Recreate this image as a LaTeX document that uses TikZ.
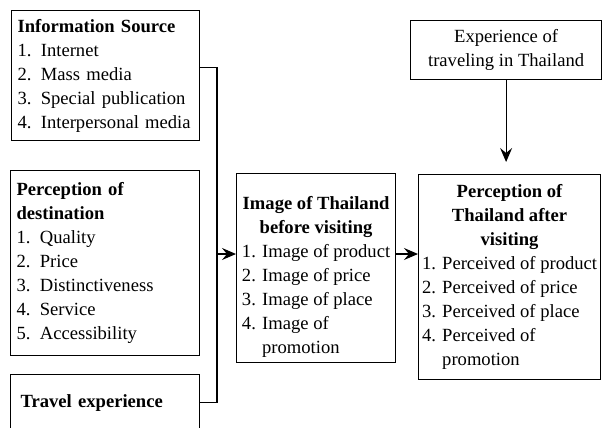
\documentclass[tikz,border=0pt]{standalone}
\usepackage{fontspec}
\setmainfont{Liberation Serif}
\usetikzlibrary{arrows.meta}
\newcommand{\hd}[1]{\multicolumn{1}{@{}c@{}}{\textbf{#1}}}
\tikzset{
  box/.style={draw, line width=0.6pt, align=left, inner ysep=0pt, anchor=north west, font=\fontsize{9.3}{12}\selectfont},
  arr/.style={-{Stealth[length=7pt,width=6pt,inset=2.5pt]}, line width=0.6pt}
}
\begin{document}
\begin{tikzpicture}[x=0.5pt,y=-0.5pt]
    \useasboundingbox (0,0) rectangle (605,428);
    \node[box, text width=88pt, inner xsep=3pt, minimum height=65pt] (info) at (11,10)
      {\textbf{Information Source}\\1. Internet\\2. Mass media\\3. Special publication\\4. Interpersonal media};
    \node[box, text width=88.5pt, inner xsep=3pt, minimum height=92.5pt] (dest) at (10,170)
      {\textbf{Perception of}\\\textbf{destination}\\1. Quality\\2. Price\\3. Distinctiveness\\4. Service\\5. Accessibility};
    \node[box, text width=84.5pt, inner xsep=5pt, minimum height=28pt] (travel) at (10,374)
      {\textbf{Travel experience}};
    \node[box, inner xsep=1pt, minimum width=79.5pt, minimum height=94.5pt] (img) at (236,173)
      {\raisebox{-4.5pt}[\height][\depth]{\begin{tabular}{@{}l@{}}\hd{Image of Thailand}\\\hd{before visiting}\\1. Image of product\\2. Image of price\\3. Image of place\\4. Image of\\\phantom{4. }promotion\end{tabular}}};
    \node[box, inner xsep=1pt, minimum width=91pt, minimum height=102.5pt] (after) at (418,174)
      {\begin{tabular}{@{}l@{}}\hd{Perception of}\\\hd{Thailand after}\\\hd{visiting}\\1. Perceived of product\\2. Perceived of price\\3. Perceived of place\\4. Perceived of\\\phantom{4. }promotion\end{tabular}};
    \node[box, align=center, minimum width=95.5pt, minimum height=29.5pt] (exp) at (410,20)
      {Experience of\\traveling in Thailand};
    \coordinate (jn) at (217,254);
    \draw[line width=0.6pt] ([yshift=4pt]info.east) -| (jn) |- (travel.east);
    \draw[arr] (jn) -- (jn -| img.west);
    \draw[arr] (img.east |- jn) -- (after.west |- jn);
    \draw[arr, shorten >=6pt] (exp.south) -- (exp.south |- after.north);
\end{tikzpicture}
\end{document}
